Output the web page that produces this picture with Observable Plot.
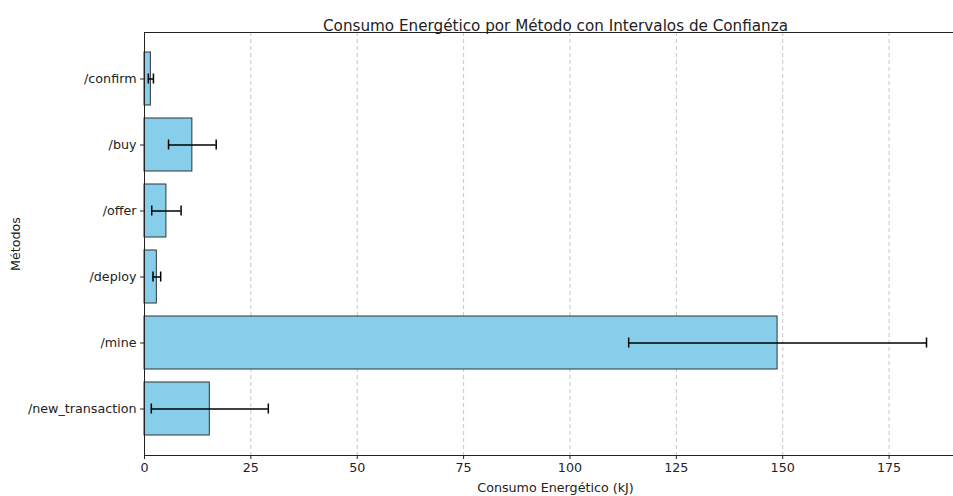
<!DOCTYPE html>
<html>
<head>
<meta charset="utf-8">
<script src="https://cdn.jsdelivr.net/npm/d3@7"></script>
<script src="https://cdn.jsdelivr.net/npm/@observablehq/plot@0.6"></script>
<style>
  html, body { margin: 0; padding: 0; background: #fff; }
  #chart { width: 953px; height: 496px; overflow: hidden; }
  svg { display: block; max-width: none; }
</style>
</head>
<body>
<div id="chart"></div>
<script>
const methods = ["/confirm", "/buy", "/offer", "/deploy", "/mine", "/new_transaction"];
const consumo = [1.5, 11.25, 5.15, 2.9, 148.8, 15.35];
const errores = [0.6, 5.6, 3.45, 0.9, 35.0, 13.75];
const xTicks = [0, 25, 50, 75, 100, 125, 150, 175];

const data = methods.map((m, i) => ({
  method: m,
  value: consumo[i],
  lo: consumo[i] - errores[i],
  hi: consumo[i] + errores[i]
}));

const font = "DejaVu Sans, sans-serif";

const chart = Plot.plot({
  width: 966,
  height: 496,
  marginLeft: 144,
  marginRight: 0,
  marginTop: 32,
  marginBottom: 41,
  style: { fontFamily: font, fontSize: "12.7px", color: "#222", background: "#fff", maxWidth: "none" },
  x: { domain: [0, 193.2], ticks: xTicks },
  y: { domain: methods, paddingInner: 0.2, paddingOuter: 0.29 },
  marks: [
    Plot.gridX(xTicks.filter(d => d > 0), { stroke: "#b8b8b8", strokeOpacity: 1, strokeDasharray: "4,3", strokeWidth: 0.8 }),
    Plot.barX(data, { x: "value", y: "method", fill: "#87CEEB", stroke: "#333", strokeWidth: 1 }),
    Plot.ruleY(data, { x1: "lo", x2: "hi", y: "method", stroke: "#000", strokeWidth: 1.5 }),
    Plot.tickX(data, { x: "lo", y: "method", stroke: "#000", strokeWidth: 1.5, insetTop: 21.5, insetBottom: 21.5 }),
    Plot.tickX(data, { x: "hi", y: "method", stroke: "#000", strokeWidth: 1.5, insetTop: 21.5, insetBottom: 21.5 }),
    Plot.frame({ stroke: "#222", strokeWidth: 1 }),
    Plot.axisX({ ticks: xTicks, tickSize: 4, tickPadding: 3, label: "Consumo Energético (kJ)", labelAnchor: "center", labelArrow: "none", labelOffset: 36, fontSize: 12.7, color: "#222" }),
    Plot.axisY({ tickSize: 4, tickPadding: 4, label: "Métodos", labelAnchor: "center", labelArrow: "none", labelOffset: 134, fontSize: 12.7, color: "#222" }),
    Plot.text(["Consumo Energético por Método con Intervalos de Confianza"], { frameAnchor: "top", dy: -12, fontSize: 15.2, fill: "#222" })
  ]
});

document.getElementById("chart").appendChild(chart);
</script>
</body>
</html>
